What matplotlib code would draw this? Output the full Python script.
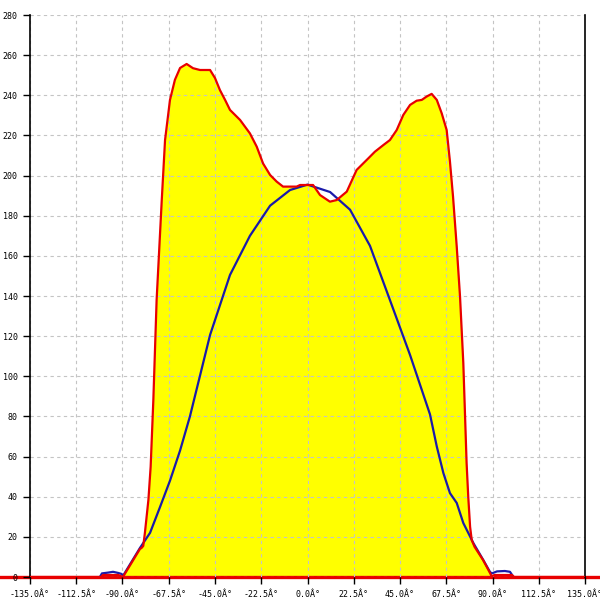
import matplotlib
matplotlib.use("Agg")
import matplotlib.pyplot as plt
import numpy as np

# Red (filled) curve: angle in degrees -> value
red_deg = [-135, -100.5, -99.5, -92, -89.8, -81.5, -80.7, -79.9, -79.1, -77.4,
           -76.3, -75.0, -73.4, -70.9, -69.3, -66.9, -64.5, -62.0, -58.8, -55.7,
           -52.3, -47.4, -45.0, -42.6, -40.1, -37.7, -32.8, -28.0, -24.7, -21.6,
           -18.2, -15.0, -11.9, -5.3, -3.6, 2.7, 6.1, 10.9, 14.2, 19.1,
           23.9, 29.6, 32.8, 36.9, 40.1, 43.4, 46.6, 49.9, 53.1, 55.6,
           58.0, 60.4, 62.9, 65.3, 67.7, 69.3, 70.8, 72.6, 74.2, 75.8,
           76.6, 77.4, 78.2, 79.1, 79.9, 81.3, 85.4, 88.8, 89.6, 91.0,
           99.5, 100.5, 135]
red_val = [0, 0, 1, 1, 0, 14, 14.5, 15.5, 22, 38.4,
           55, 88, 138, 187.8, 217.7, 237.7, 247.7, 253.6, 255.6, 253.5,
           252.6, 252.6, 248.6, 242.6, 237.7, 232.7, 227.7, 221, 214.4, 206,
           200.3, 197, 194.5, 194.5, 195.3, 195.3, 190.3, 187, 187.8, 192,
           202.8, 208.6, 211.9, 215.2, 217.7, 222.7, 230.2, 235.2, 237.3, 237.7,
           239.4, 240.7, 237.7, 231, 222.7, 207, 189.5, 164.6, 139.7, 106.6,
           81.7, 56.8, 40, 25, 18.4, 15, 8.5, 2, 0.3, 1,
           1, 0, 0]

# Blue curve
blue_deg = [-101, -100, -97, -94.6, -92, -90.4, -89.8, -81.5, -76.6, -71.7,
            -66.9, -62.0, -57.2, -47.4, -37.7, -28.0, -18.2, -8.5, 0, 11,
            20.7, 30.4, 40.1, 49.9, 59.6, 62.9, 66.1, 69.3, 72.6, 75.8,
            80.7, 85.5, 88.8, 89.7, 92.2, 96, 98.5, 100.2]
blue_val = [0, 1.8, 2.2, 2.6, 2.0, 1.5, 0.5, 14.5, 22, 35,
            48, 63, 80, 120.6, 150.5, 170, 185, 192.8, 195.5, 191.8,
            183, 165, 138, 110.6, 81, 65, 51.8, 41.8, 36.9, 26.9,
            16.9, 8.5, 2.5, 1.8, 2.8, 3, 2.6, 0]

x_ticks = np.arange(-135, 135.1, 22.5)
x_labels = [f"{v:.1f}\u00c2\u00b0" for v in x_ticks]
y_ticks = np.arange(0, 281, 20)

plt.rcParams["font.family"] = "DejaVu Sans Mono"

fig = plt.figure(figsize=(6, 6), dpi=100)
ax = fig.add_axes([0.05, 0.0383, 0.925, 0.9367])

ax.fill_between(red_deg, red_val, 0, color="#ffff00", lw=0, zorder=1)
ax.plot(blue_deg, blue_val, color="#1a1aaa", lw=1.6, zorder=3)
ax.plot(red_deg, red_val, color="#e80000", lw=1.6, zorder=4)
ax.axhline(0, xmin=-0.055, xmax=1.03, color="#e80000", lw=2.4,
           clip_on=False, zorder=1.2)

ax.set_xlim(-135, 135)
ax.set_ylim(0, 280)
ax.set_xticks(x_ticks)
ax.set_xticklabels(x_labels, fontsize=6)
ax.set_yticks(y_ticks)
ax.set_yticklabels([str(v) for v in y_ticks], fontsize=6)
ax.tick_params(axis="both", direction="out", length=5, width=1, color="black")
ax.tick_params(axis="x", pad=4)
ax.tick_params(axis="y", pad=4)

ax.grid(True, color="#c4c4c4", ls=(0, (3, 3)), lw=0.8)
for side in ["top", "bottom"]:
    ax.spines[side].set_visible(False)
ax.spines["left"].set_color("black")
ax.spines["right"].set_color("black")
ax.spines["left"].set_linewidth(1.2)
ax.spines["right"].set_linewidth(1.2)

plt.savefig("out.png", dpi=100)
plt.close()
